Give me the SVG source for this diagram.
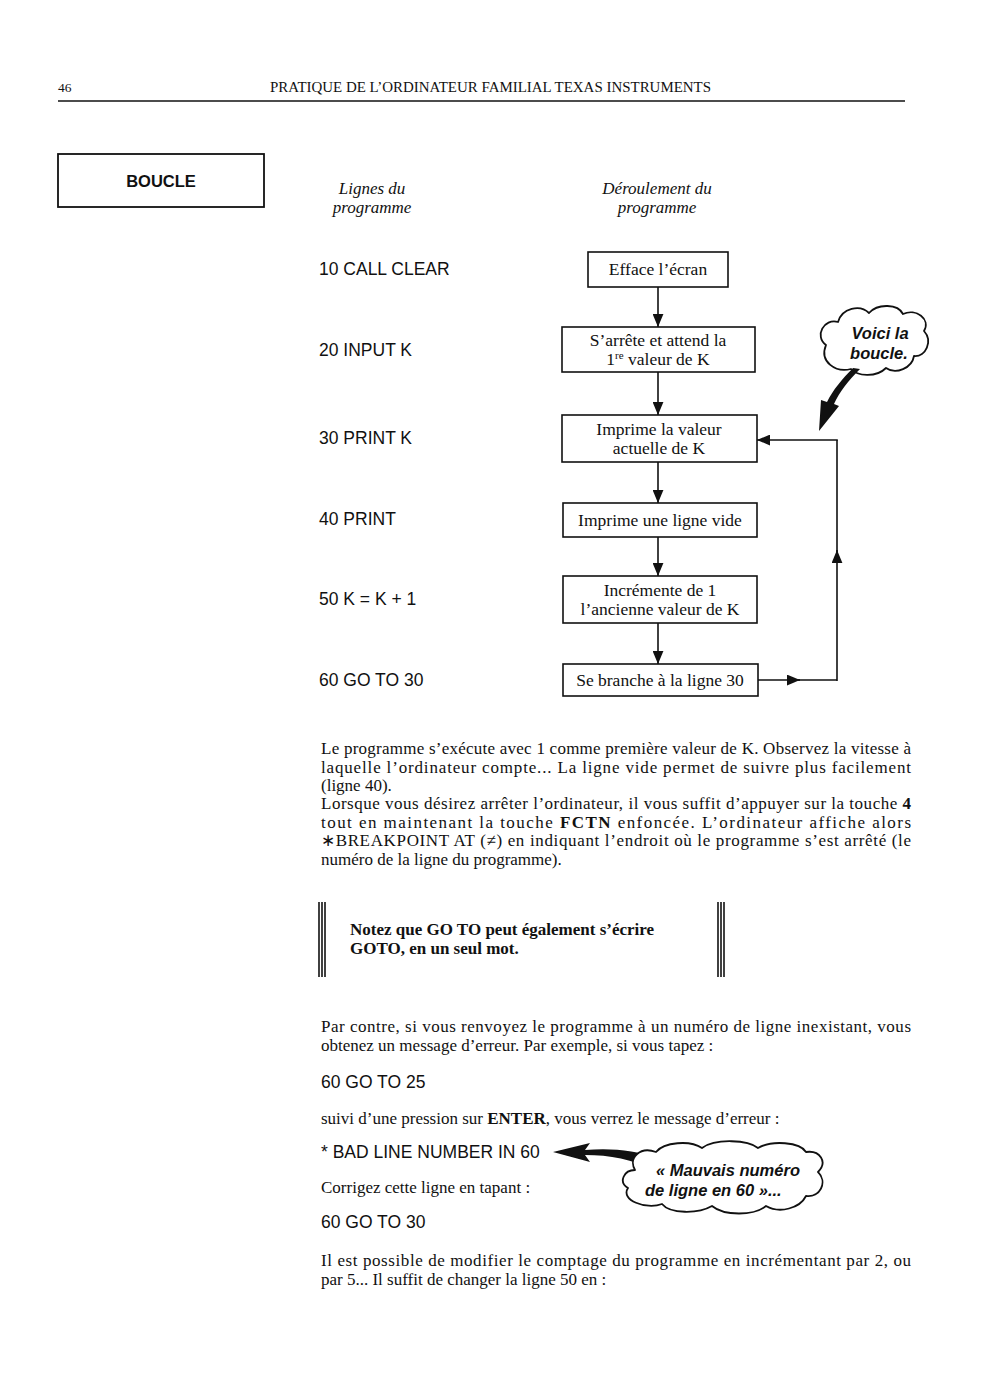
<svg xmlns="http://www.w3.org/2000/svg" width="993" height="1400" viewBox="0 0 993 1400">
<defs>
<style>
.serif{font-family:"Liberation Serif","Times New Roman",serif;fill:#111}
.sans{font-family:"Liberation Sans",Arial,sans-serif;fill:#111}
.body{font-size:17px}
.box{fill:#fff;stroke:#111;stroke-width:1.6}
.bt{font-family:"Liberation Serif","Times New Roman",serif;font-size:17.5px;fill:#111;text-anchor:middle}
.prog{font-family:"Liberation Sans",Arial,sans-serif;font-size:17.5px;fill:#111}
.line{fill:none;stroke:#111;stroke-width:1.6}
.bar{stroke:#111;stroke-width:1.6}
.cloud{fill:#fff;stroke:#111;stroke-width:1.8;stroke-linejoin:round}
.ct{font-family:"Liberation Sans",Arial,sans-serif;font-style:italic;font-weight:bold;font-size:16.5px;fill:#111}
</style>
<marker id="ahb" viewBox="0 0 12 10" refX="12" refY="5" markerWidth="13" markerHeight="11" markerUnits="userSpaceOnUse" orient="auto">
<path d="M0,0 L12,5 L0,10 Z" fill="#111"/>
</marker>
</defs>

<g id="header">
<text class="serif" x="58" y="92" font-size="13.5">46</text>
<text class="serif" x="270" y="92" font-size="14" textLength="441" lengthAdjust="spacingAndGlyphs">PRATIQUE DE L’ORDINATEUR FAMILIAL TEXAS INSTRUMENTS</text>
<line x1="58" y1="101" x2="905" y2="101" stroke="#111" stroke-width="1.6"/>
</g>

<g id="title-boucle">
<rect x="58" y="154" width="206" height="53" fill="none" stroke="#111" stroke-width="1.8"/>
<text class="sans" x="161" y="187" font-size="16.5" font-weight="bold" text-anchor="middle">BOUCLE</text>
</g>

<g id="col-headers">
<text class="serif" x="372" y="194" font-size="17" font-style="italic" text-anchor="middle">Lignes du</text>
<text class="serif" x="372" y="213" font-size="17" font-style="italic" text-anchor="middle">programme</text>
<text class="serif" x="657" y="194" font-size="17" font-style="italic" text-anchor="middle">Déroulement du</text>
<text class="serif" x="657" y="213" font-size="17" font-style="italic" text-anchor="middle">programme</text>
</g>

<g id="program-lines">
<text class="prog" x="319" y="275">10 CALL CLEAR</text>
<text class="prog" x="319" y="356">20 INPUT K</text>
<text class="prog" x="319" y="444">30 PRINT K</text>
<text class="prog" x="319" y="525">40 PRINT</text>
<text class="prog" x="319" y="605">50 K = K + 1</text>
<text class="prog" x="319" y="686">60 GO TO 30</text>
</g>

<g id="connectors">
<line class="line" x1="658" y1="287" x2="658" y2="327" marker-end="url(#ahb)"/>
<line class="line" x1="658" y1="372" x2="658" y2="415" marker-end="url(#ahb)"/>
<line class="line" x1="658" y1="462" x2="658" y2="503" marker-end="url(#ahb)"/>
<line class="line" x1="658" y1="537" x2="658" y2="576" marker-end="url(#ahb)"/>
<line class="line" x1="658" y1="623" x2="658" y2="664" marker-end="url(#ahb)"/>
<line class="line" x1="758" y1="680" x2="800" y2="680" marker-end="url(#ahb)"/>
<line class="line" x1="798" y1="680" x2="837" y2="680"/>
<line class="line" x1="837" y1="681" x2="837" y2="550" marker-end="url(#ahb)"/>
<line class="line" x1="837" y1="552" x2="837" y2="440"/>
<polyline class="line" points="837.8,440 757,440" marker-end="url(#ahb)"/>
</g>

<g id="n1">
<rect class="box" x="588" y="252" width="140" height="35"/>
<text class="bt" x="658" y="275">Efface l’écran</text>
</g>
<g id="n2">
<rect class="box" x="562" y="327" width="193" height="45"/>
<text class="bt" x="658" y="346">S’arrête et attend la</text>
<text class="bt" x="658" y="365">1<tspan font-size="11" dy="-6">re</tspan><tspan dy="6"> valeur de K</tspan></text>
</g>
<g id="n3">
<rect class="box" x="562" y="415" width="195" height="47"/>
<text class="bt" x="659" y="435">Imprime la valeur</text>
<text class="bt" x="659" y="454">actuelle de K</text>
</g>
<g id="n4">
<rect class="box" x="563" y="503" width="194" height="34"/>
<text class="bt" x="660" y="526">Imprime une ligne vide</text>
</g>
<g id="n5">
<rect class="box" x="563" y="576" width="194" height="47"/>
<text class="bt" x="660" y="596">Incrémente de 1</text>
<text class="bt" x="660" y="615">l’ancienne valeur de K</text>
</g>
<g id="n6">
<rect class="box" x="563" y="664" width="195" height="32"/>
<text class="bt" x="660" y="686">Se branche à la ligne 30</text>
</g>

<g id="cloud-boucle">
<path class="cloud" d="M826,345 C814,336 824,318 838,322 C842,308 860,304 869,313 C878,303 898,304 903,314 C916,308 931,319 924,331 C933,341 926,357 914,356 C912,368 896,375 886,368 C876,378 857,376 851,369 C836,373 819,362 826,345 Z"/>
<path d="M821,400 L819,431 L839,406 L834,404 C840,391 848,381 860,369 L853,368 C842,379 833,390 827,402 Z" fill="#111"/>
<text class="ct" x="880" y="339" text-anchor="middle">Voici la</text>
<text class="ct" x="879" y="359" text-anchor="middle">boucle.</text>
</g>

<g id="para1" class="serif body">
<text x="321" y="754" textLength="590" lengthAdjust="spacing">Le programme s’exécute avec 1 comme première valeur de K. Observez la vitesse à</text>
<text x="321" y="772.5" textLength="590" lengthAdjust="spacing">laquelle l’ordinateur compte... La ligne vide permet de suivre plus facilement</text>
<text x="321" y="791">(ligne 40).</text>
<text x="321" y="809" textLength="590" lengthAdjust="spacing">Lorsque vous désirez arrêter l’ordinateur, il vous suffit d’appuyer sur la touche <tspan font-weight="bold">4</tspan></text>
<text x="321" y="827.5" textLength="590" lengthAdjust="spacing">tout en maintenant la touche <tspan font-weight="bold">FCTN</tspan> enfoncée. L’ordinateur affiche alors</text>
<text x="321" y="846" textLength="590" lengthAdjust="spacing">∗BREAKPOINT AT (≠) en indiquant l’endroit où le programme s’est arrêté (le</text>
<text x="321" y="864.5">numéro de la ligne du programme).</text>
</g>

<g id="note">
<line class="bar" x1="319" y1="902" x2="319" y2="977"/>
<line class="bar" x1="322" y1="902" x2="322" y2="977"/>
<line class="bar" x1="325" y1="902" x2="325" y2="977"/>
<line class="bar" x1="718" y1="902" x2="718" y2="977"/>
<line class="bar" x1="721" y1="902" x2="721" y2="977"/>
<line class="bar" x1="724" y1="902" x2="724" y2="977"/>
<text class="serif body" x="350" y="935" font-weight="bold">Notez que GO TO peut également s’écrire</text>
<text class="serif body" x="350" y="954" font-weight="bold">GOTO, en un seul mot.</text>
</g>

<g id="para2">
<text class="serif body" x="321" y="1032" textLength="590" lengthAdjust="spacing">Par contre, si vous renvoyez le programme à un numéro de ligne inexistant, vous</text>
<text class="serif body" x="321" y="1051">obtenez un message d’erreur. Par exemple, si vous tapez :</text>
<text class="prog" x="321" y="1088">60 GO TO 25</text>
<text class="serif body" x="321" y="1124">suivi d’une pression sur <tspan font-weight="bold">ENTER</tspan>, vous verrez le message d’erreur :</text>
<text class="prog" x="321" y="1158">* BAD LINE NUMBER IN 60</text>
<text class="serif body" x="321" y="1193">Corrigez cette ligne en tapant :</text>
<text class="prog" x="321" y="1228">60 GO TO 30</text>
<text class="serif body" x="321" y="1266" textLength="590" lengthAdjust="spacing">Il est possible de modifier le comptage du programme en incrémentant par 2, ou</text>
<text class="serif body" x="321" y="1285">par 5... Il suffit de changer la ligne 50 en :</text>
</g>

<g id="cloud-erreur">
<path d="M553,1152 L590,1143 L585,1150 C612,1148 634,1150 660,1159 L656,1171 C632,1159 610,1155 585,1155 L590,1162 Z" fill="#111"/>
<path class="cloud" d="M635,1170 C628,1158 640,1146 656,1152 C664,1142 690,1140 702,1148 C716,1138 748,1140 758,1148 C772,1140 800,1142 806,1152 C820,1150 828,1162 818,1172 C828,1182 820,1198 806,1196 C800,1208 780,1214 766,1206 C754,1216 724,1216 712,1206 C698,1214 670,1214 662,1204 C646,1210 620,1200 628,1188 C618,1182 624,1170 635,1170 Z"/>
<text class="ct" x="656" y="1176">« Mauvais numéro</text>
<text class="ct" x="645" y="1196">de ligne en 60 »...</text>
</g>
</svg>
